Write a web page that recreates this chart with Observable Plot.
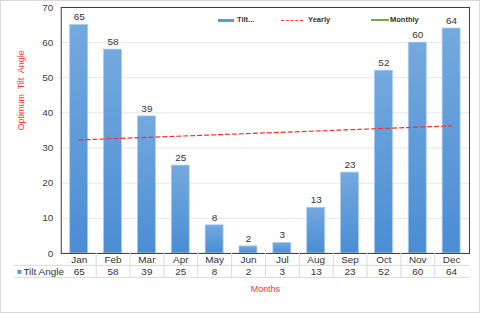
<!DOCTYPE html>
<html>
<head>
<meta charset="utf-8">
<script src="https://cdn.jsdelivr.net/npm/d3@7"></script>
<script src="https://cdn.jsdelivr.net/npm/@observablehq/plot@0.6"></script>
<style>
  html, body { margin: 0; padding: 0; background: #fff; }
  #wrap { position: relative; width: 480px; height: 313px; box-sizing: border-box; border: 1px solid #d9d9d9; overflow: hidden; font-family: "Liberation Sans", Arial, sans-serif; }
  #chart { position: absolute; left: 0; top: 0; }
  .lg { position: absolute; top: 14px; font-size: 7.5px; font-weight: bold; color: #333; line-height: 10px; white-space: nowrap; }
  .sw { display: inline-block; vertical-align: middle; margin-right: 3px; }
</style>
</head>
<body>
<div id="wrap">
  <div id="chart"></div>
  <div class="lg" style="left:217px;"><span class="sw" style="width:16px;height:3px;background:#5b9bd5;"></span>Tilt...</div>
  <div class="lg" style="left:280px;"><span class="sw" style="width:22px;border-top:1.2px dashed #ff3333;"></span>&nbsp;Yearly</div>
  <div class="lg" style="left:370px;"><span class="sw" style="width:18px;height:1.2px;background:#70ad47;margin-right:1px;"></span>Monthly</div>
</div>
<script>
const months = ["Jan","Feb","Mar","Apr","May","Jun","Jul","Aug","Sep","Oct","Nov","Dec"];
const tiltAngle = [65, 58, 39, 25, 8, 2, 3, 13, 23, 52, 60, 64];
const yearlyMonths = ["Jan", "Dec"];
const yearlyValues = [32.3, 36.3];
const yTicks = [0, 10, 20, 30, 40, 50, 60, 70];
const seriesName = "Tilt Angle";
const yTitle = "Optimum  Tilt  Angle";
const xTitle = "Months";

const bars = months.map((m, i) => ({month: m, value: tiltAngle[i]}));
const yearly = yearlyMonths.map((m, i) => ({month: m, value: yearlyValues[i]}));

const W = 480, H = 313, ML = 60, MR = 10, MT = 6, MB = 60;
const step = (W - ML - MR) / months.length;

const chart = Plot.plot({
  width: W, height: H,
  marginLeft: ML, marginRight: MR, marginTop: MT, marginBottom: MB,
  style: {fontFamily: "Liberation Sans, Arial, sans-serif", fontSize: "10px", color: "#404040", background: "transparent"},
  x: {domain: months, paddingInner: 0.47, paddingOuter: 0.235, axis: null},
  y: {domain: [0, 70], ticks: yTicks, tickSize: 0, tickPadding: 8, label: null, grid: false},
  marks: [
    Plot.gridY(yTicks, {stroke: "#e6e6e6", strokeOpacity: 1}),
    Plot.barY(bars, {x: "month", y: "value", fill: "url(#barGrad)", stroke: "#a9cbec", strokeWidth: 0.8}),
    Plot.text(bars, {x: "month", y: "value", text: d => String(d.value), dy: -8, fill: "#333", fontSize: 10}),
    Plot.line(yearly, {x: "month", y: "value", stroke: "#ff2a2a", strokeWidth: 1.2, strokeDasharray: "4,3"}),
    Plot.frame({stroke: "#3a3a3a", strokeWidth: 1}),
    Plot.axisY({ticks: yTicks, tickSize: 0, tickPadding: 8, fill: "#404040", fontSize: 10, label: null}),
    // data table
    Plot.text(months, {x: d => d, frameAnchor: "bottom", lineAnchor: "middle", dy: 6.5, text: d => d, fill: "#333", fontSize: 10}),
    Plot.text(bars, {x: "month", frameAnchor: "bottom", lineAnchor: "middle", dy: 18.5, text: d => String(d.value), fill: "#333", fontSize: 10}),
    Plot.ruleY([0], {dy: 12, insetLeft: -47, stroke: "#d9d9d9"}),
    Plot.ruleY([0], {dy: 24, insetLeft: -47, stroke: "#d9d9d9"}),
    Plot.ruleX(months.slice(0, -1), {x: d => d, dx: step / 2, y1: 0, y2: 0, insetBottom: -24, stroke: "#d9d9d9"}),
    Plot.dot([seriesName], {frameAnchor: "bottom-left", dx: -42, dy: 18.5, symbol: "square", r: 2.3, fill: "#5b9bd5", stroke: "none"}),
    Plot.text([seriesName], {frameAnchor: "bottom-left", lineAnchor: "middle", dx: -38, dy: 18.5, textAnchor: "start", text: d => d, fill: "#333", fontSize: 10}),
    // titles
    Plot.text([yTitle], {frameAnchor: "left", lineAnchor: "middle", dx: -40, rotate: -90, text: d => d, fill: "#ff3333", fontSize: 9}),
    Plot.text([xTitle], {frameAnchor: "bottom", lineAnchor: "middle", dy: 36, text: d => d, fill: "#ff3333", fontSize: 9})
  ]
});

const defs = d3.select(chart).insert("defs", ":first-child");
const g = defs.append("linearGradient").attr("id", "barGrad").attr("x1", 0).attr("y1", 0).attr("x2", 0).attr("y2", 1);
g.append("stop").attr("offset", "0%").attr("stop-color", "#73a9de");
g.append("stop").attr("offset", "100%").attr("stop-color", "#4a8dd4");

document.getElementById("chart").appendChild(chart);
</script>
</body>
</html>
